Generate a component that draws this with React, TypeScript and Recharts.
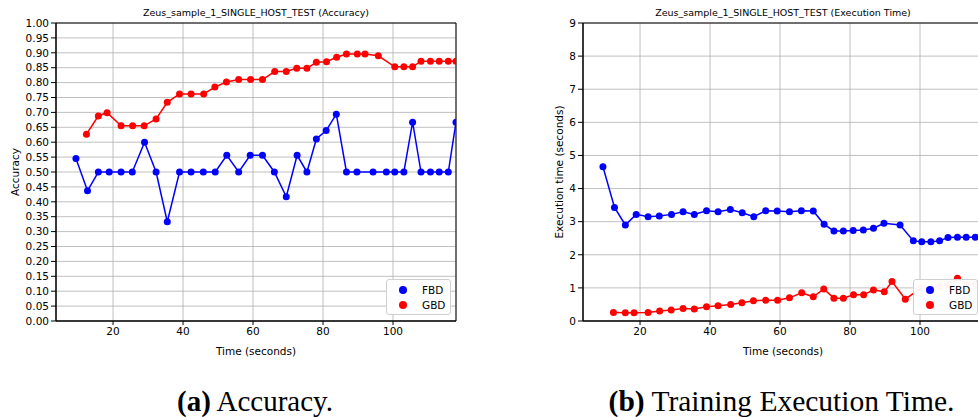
import { LineChart, Line, XAxis, YAxis, CartesianGrid, Legend, ReferenceArea, Label } from "recharts";

// sample times (seconds)
const fbdTime = [9.4, 12.7, 15.8, 18.9, 22.3, 25.5, 29.0, 32.3, 35.5, 39.0, 42.3, 45.8, 49.2, 52.5, 55.9, 59.2, 62.7, 66.1, 69.5, 72.6, 75.4, 78.1, 80.9, 83.8, 86.7, 89.7, 94.3, 98.1, 100.5, 103.1, 105.6, 108.0, 110.7, 113.2, 115.8, 118.0];
const gbdTime = [12.4, 15.8, 18.3, 22.3, 25.6, 28.9, 32.3, 35.5, 39.0, 42.3, 45.9, 49.1, 52.4, 55.9, 59.3, 62.7, 66.2, 69.5, 72.5, 75.4, 78.1, 81.0, 83.9, 86.7, 89.8, 92.0, 95.8, 100.5, 103.1, 105.6, 108.0, 110.7, 113.2, 115.8, 118.0];

const fbdAccuracy = [0.545, 0.437, 0.5, 0.5, 0.5, 0.5, 0.6, 0.5, 0.333, 0.5, 0.5, 0.5, 0.5, 0.556, 0.5, 0.556, 0.556, 0.5, 0.417, 0.556, 0.5, 0.611, 0.639, 0.694, 0.5, 0.5, 0.5, 0.5, 0.5, 0.5, 0.667, 0.5, 0.5, 0.5, 0.5, 0.667];
const gbdAccuracy = [0.627, 0.688, 0.699, 0.655, 0.655, 0.655, 0.678, 0.734, 0.762, 0.762, 0.762, 0.785, 0.802, 0.81, 0.81, 0.81, 0.837, 0.837, 0.848, 0.848, 0.868, 0.87, 0.885, 0.896, 0.896, 0.896, 0.89, 0.853, 0.853, 0.853, 0.872, 0.872, 0.872, 0.872, 0.872];

const fbdExec = [4.66, 3.43, 2.9, 3.22, 3.15, 3.17, 3.22, 3.3, 3.22, 3.33, 3.3, 3.37, 3.27, 3.15, 3.33, 3.32, 3.3, 3.33, 3.32, 2.92, 2.72, 2.72, 2.73, 2.75, 2.8, 2.95, 2.9, 2.42, 2.39, 2.39, 2.42, 2.52, 2.53, 2.53, 2.53, 2.53];
const gbdExec = [0.26, 0.25, 0.25, 0.26, 0.3, 0.33, 0.38, 0.36, 0.43, 0.46, 0.5, 0.55, 0.61, 0.63, 0.63, 0.7, 0.85, 0.73, 0.97, 0.69, 0.69, 0.79, 0.79, 0.94, 0.88, 1.19, 0.66, 1.01, 0.95, 1.05, 1.1, 1.29, 1.1, 1.1, 1.1];

const timeTicks = [20, 40, 60, 80, 100];
const accTicks = Array.from({ length: 21 }, (_, i) => i / 20);
const execTicks = [0, 1, 2, 3, 4, 5, 6, 7, 8, 9];

const X_DOMAIN: [number, number] = [3.7, 118.0];
const FONT = "DejaVu Sans, sans-serif";

const zip = (t: number[], v: number[]) => t.map((x, i) => ({ t: x, v: v[i] }));

const LegendBox = ({ payload }: any) => (
  <div
    style={{
      background: "rgba(255,255,255,0.96)",
      border: "1px solid #cfcfcf",
      borderRadius: 3,
      width: 65,
      height: 36,
      boxSizing: "border-box",
      paddingTop: 2,
      fontFamily: FONT,
      fontSize: 10.5,
      color: "#000",
    }}
  >
    {(payload || []).map((p: any) => (
      <div key={p.value} style={{ display: "flex", alignItems: "center", height: 15 }}>
        <span style={{ width: 8, height: 8, borderRadius: 4, background: p.color, marginLeft: 12, marginRight: 15 }} />
        <span>{p.value}</span>
      </div>
    ))}
  </div>
);

function Panel({ left, width, yWidth, title, yLabel, yLabelOffset, fbd, gbd, yDomain, yTicks, fmt, legendLeft }: any) {
  return (
    <div style={{ position: "absolute", left, top: 0, width, height: 360 }}>
      <div style={{ position: "absolute", left: yWidth, width: 400, top: 7, textAlign: "center", fontFamily: FONT, fontSize: 9.5, lineHeight: "12px", whiteSpace: "nowrap" }}>
        {title}
      </div>
      <LineChart width={width} height={360} margin={{ top: 23, right: width - yWidth - 400, left: 0, bottom: 5 }}>
        <CartesianGrid stroke="#b0b0b0" strokeWidth={0.8} />
        <XAxis
          type="number"
          dataKey="t"
          domain={X_DOMAIN}
          allowDataOverflow
          ticks={timeTicks}
          height={34}
          tickSize={4}
          tickMargin={3}
          stroke="#000"
          tick={{ fill: "#000", fontSize: 10.5, fontFamily: FONT }}
          label={{ value: "Time (seconds)", position: "insideBottom", offset: 0, fill: "#000", fontSize: 10.5, fontFamily: FONT }}
        />
        <YAxis
          type="number"
          domain={yDomain}
          ticks={yTicks}
          width={yWidth}
          tickSize={5}
          tickMargin={2}
          interval={0}
          stroke="#000"
          tickFormatter={fmt}
          tick={{ fill: "#000", fontSize: 10.5, fontFamily: FONT }}
        >
          <Label value={yLabel} angle={-90} position="insideLeft" offset={yLabelOffset} style={{ textAnchor: "middle", fill: "#000", fontSize: 10.5, fontFamily: FONT }} />
        </YAxis>
        <ReferenceArea x1={X_DOMAIN[0]} x2={X_DOMAIN[1]} y1={yDomain[0]} y2={yDomain[1]} fill="none" stroke="#000" strokeWidth={1} />
        <Line data={fbd} dataKey="v" name="FBD" stroke="#0000ff" strokeWidth={1.5} dot={{ r: 3.5, fill: "#0000ff", stroke: "none" }} activeDot={false} isAnimationActive={false} />
        <Line data={gbd} dataKey="v" name="GBD" stroke="#ff0000" strokeWidth={1.5} dot={{ r: 3.5, fill: "#ff0000", stroke: "none" }} activeDot={false} isAnimationActive={false} />
        <Legend layout="horizontal" verticalAlign="middle" align="center" content={<LegendBox />} wrapperStyle={{ left: legendLeft, top: 279, width: 65, height: 36 }} />
      </LineChart>
    </div>
  );
}

export default function App() {
  return (
    <div style={{ position: "absolute", left: 0, top: 0, width: 978, height: 417, overflow: "hidden", background: "#fff" }}>
      <Panel
        left={0}
        width={470}
        yWidth={56}
        title="Zeus_sample_1_SINGLE_HOST_TEST (Accuracy)"
        yLabel="Accuracy"
        yLabelOffset={15}
        fbd={zip(fbdTime, fbdAccuracy)}
        gbd={zip(gbdTime, gbdAccuracy)}
        yDomain={[0, 1]}
        yTicks={accTicks}
        fmt={(v: number) => v.toFixed(2)}
        legendLeft={386}
      />
      <Panel
        left={530}
        width={462}
        yWidth={53}
        title="Zeus_sample_1_SINGLE_HOST_TEST (Execution Time)"
        yLabel="Execution time (seconds)"
        yLabelOffset={29}
        fbd={zip(fbdTime, fbdExec)}
        gbd={zip(gbdTime, gbdExec)}
        yDomain={[0, 9]}
        yTicks={execTicks}
        fmt={(v: number) => String(v)}
        legendLeft={383}
      />
      <div style={{ position: "absolute", left: 0, width: 510, top: 387, textAlign: "center", fontFamily: "Liberation Serif, serif", fontSize: 29, lineHeight: "29px", whiteSpace: "nowrap" }}>
        <b>(a)</b> Accuracy.
      </div>
      <div style={{ position: "absolute", left: 530, width: 503, top: 387, textAlign: "center", fontFamily: "Liberation Serif, serif", fontSize: 29.5, lineHeight: "29px", whiteSpace: "nowrap" }}>
        <b>(b)</b> Training Execution Time.
      </div>
    </div>
  );
}
